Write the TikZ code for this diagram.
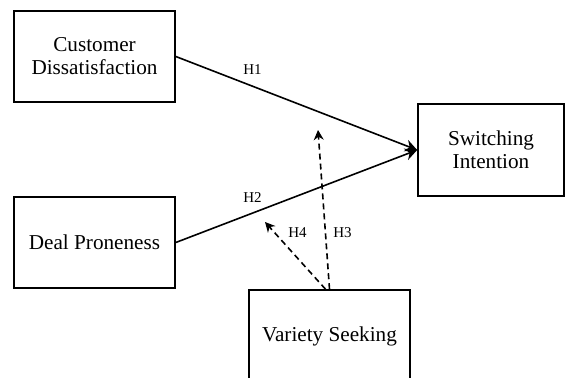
\documentclass[tikz,border=0pt]{standalone}
\usepackage{fontspec}
\setmainfont{Liberation Serif}
\usetikzlibrary{arrows.meta}

\tikzset{
  box/.style={draw, black, line width=0.8pt, minimum width=80.5pt, minimum height=45.5pt,
    inner sep=0pt, align=center, font=\fontsize{10.6}{11.5}\selectfont},
  hyp/.style={font=\fontsize{7.5}{9}\selectfont, inner sep=0pt},
}

\begin{document}
\begin{tikzpicture}[x=0.5pt, y=-0.5pt]

\useasboundingbox (0,0) rectangle (566,378);
\clip (0,0) rectangle (566,378);

\node[box] (CD) at (94.5,56.5) {Customer\\Dissatisfaction};
\node[box] (DP) at (94.5,242.5) {Deal Proneness};
\node[box, minimum width=73pt, minimum height=46pt] (SI) at (491,150) {Switching\\Intention};
\node[box, minimum height=46pt] (VS) at (329.5,336) {Variety Seeking};

\coordinate (H3end) at (318,130);
\coordinate (H4end) at (265,222);

\draw[thick, black, -{Stealth[length=6pt, width=6pt]}] (CD.east) -- (SI.west);
\draw[thick, black, -{Stealth[length=6pt, width=6pt]}] (DP.east) -- (SI.west);
\draw[thick, black, dash pattern=on 3pt off 2pt, -{Stealth[length=5pt, width=5pt]}] (VS.north) -- (H3end);
\draw[thick, black, dash pattern=on 3pt off 2pt, -{Stealth[length=5pt, width=5pt]}] ([xshift=-2pt]VS.north) -- (H4end);

\node[hyp] (lH1) at (252.5,69.5) {H1};
\node[hyp] (lH2) at (252.5,197.5) {H2};
\node[hyp] (lH4) at (297.5,232.5) {H4};
\node[hyp] (lH3) at (342.5,232.5) {H3};

\end{tikzpicture}
\end{document}
